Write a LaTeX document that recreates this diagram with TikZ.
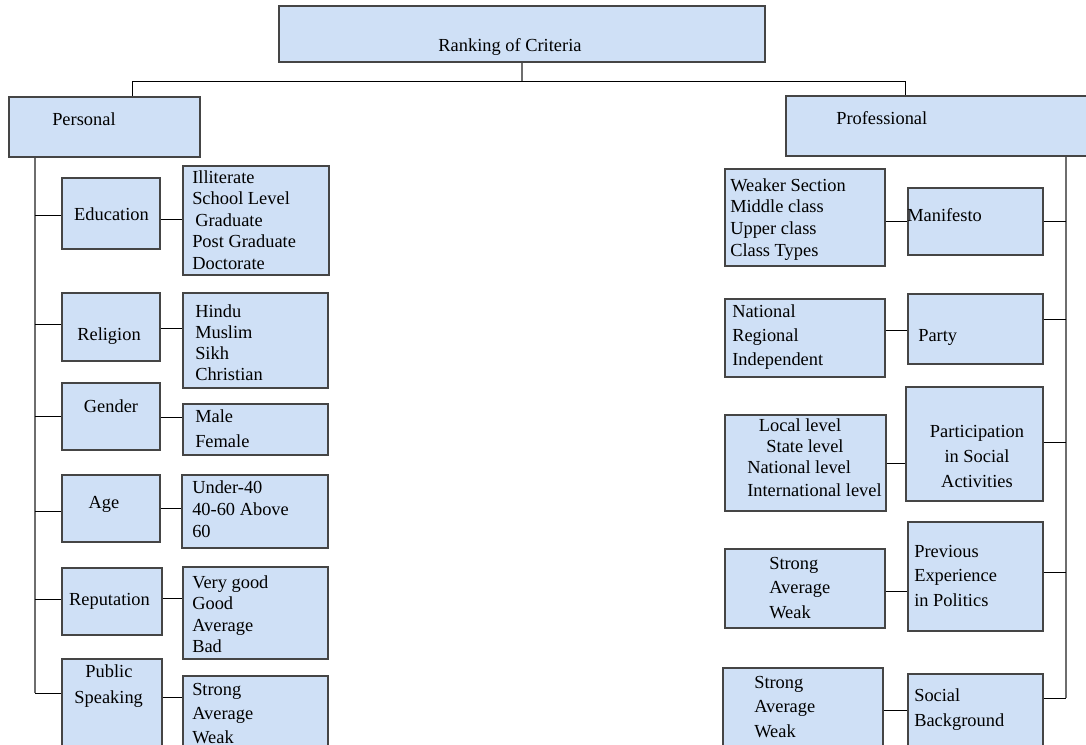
\documentclass[tikz,border=0pt]{standalone}
\usepackage{fontspec}
\setmainfont{Liberation Serif}
\usetikzlibrary{fit}
\definecolor{boxfill}{HTML}{CFE0F6}
\definecolor{boxline}{HTML}{454545}
\definecolor{trunkc}{HTML}{6E6E6E}
\tikzset{
  box/.style={draw=boxline, fill=boxfill, line width=0.9pt, inner sep=0pt, rectangle},
  txt/.style={inner sep=0pt, font=\fontsize{13.8}{16}\selectfont, text=black},
  link/.style={draw=black, line width=0.75pt},
  trunk/.style={draw=trunkc, line width=1.1pt},
}
\newcommand\mkbox[5]{\node[box, fit={(#2,#3) (#4,#5)}] (#1) {};}
\newcommand\mklines[5]{%
  \foreach \t [count=\i] in {#5} {\node[txt, anchor=base west] (#1\i) at (#2,{#3+(\i-1)*#4}) {\t};}}
\begin{document}
\begin{tikzpicture}[x=0.75pt,y=-0.75pt]
\useasboundingbox (0,0) rectangle (1086,744);
\clip (0,0) rectangle (1086,744);
% boxes
\mkbox{top}{279}{6}{765}{62}
\mkbox{personal}{9}{97}{200}{157}
\mkbox{prof}{786}{96}{1092}{156}
\mkbox{edu}{62}{178}{160}{249}
\mkbox{eduopt}{183}{166}{329}{275}
\mkbox{rel}{62}{293}{160}{361}
\mkbox{relopt}{183}{293}{328}{388}
\mkbox{gen}{62}{383}{160}{450}
\mkbox{genopt}{183}{404}{328}{455}
\mkbox{age}{62}{475}{160}{542}
\mkbox{ageopt}{182}{475}{328}{548}
\mkbox{rep}{62}{568}{162}{635}
\mkbox{repopt}{183}{567}{328}{659}
\mkbox{ps}{62}{659}{162}{760}
\mkbox{psopt}{183}{676}{328}{760}
\mkbox{weak}{725}{169}{885}{266}
\mkbox{mani}{908}{188}{1043}{255}
\mkbox{nat}{725}{299}{885}{377}
\mkbox{party}{908}{294}{1043}{364}
\mkbox{loc}{725}{415}{886}{511}
\mkbox{part}{906}{387}{1043}{501}
\mkbox{str1}{725}{549}{885}{628}
\mkbox{prev}{908}{522}{1043}{631}
\mkbox{str2}{723}{668}{883}{760}
\mkbox{soc}{908}{674}{1043}{760}
% top connectors
\coordinate (hl) at (132,81);
\coordinate (hr) at (905,81);
\coordinate (tk) at (522,81);
\draw[trunk] (top.south -| tk) -- (tk);
\draw[link] (hl) -- (hr);
\draw[link] (hl) -- (hl |- personal.north);
\draw[link] (hr) -- (hr |- prof.north);
% left trunk
\coordinate (LT) at (35,693);
\draw[trunk] (LT |- personal.south) -- (LT);
\draw[link] (LT |- 0,215) -- (edu.west |- 0,215);
\draw[link] (LT |- 0,324) -- (rel.west |- 0,324);
\draw[link] (LT |- 0,416) -- (gen.west |- 0,416);
\draw[link] (LT |- 0,511) -- (age.west |- 0,511);
\draw[link] (LT |- 0,599) -- (rep.west |- 0,599);
\draw[link] (LT |- 0,693) -- (ps.west |- 0,693);
\draw[link] (edu.east |- 0,219) -- (eduopt.west |- 0,219);
\draw[link] (rel.east |- 0,328) -- (relopt.west |- 0,328);
\draw[link] (gen.east |- 0,417) -- (genopt.west |- 0,417);
\draw[link] (age.east |- 0,508) -- (ageopt.west |- 0,508);
\draw[link] (rep.east |- 0,598) -- (repopt.west |- 0,598);
\draw[link] (ps.east |- 0,697) -- (psopt.west |- 0,697);
% right trunk
\coordinate (RT) at (1066,698);
\draw[trunk] (RT |- prof.south) -- (RT);
\draw[link] (mani.east |- 0,221) -- (RT |- 0,221);
\draw[link] (party.east |- 0,319) -- (RT |- 0,319);
\draw[link] (part.east |- 0,442) -- (RT |- 0,442);
\draw[link] (prev.east |- 0,572) -- (RT |- 0,572);
\draw[link] (soc.east |- 0,698) -- (RT);
\draw[link] (weak.east |- 0,221) -- (mani.west |- 0,221);
\draw[link] (nat.east |- 0,330) -- (party.west |- 0,330);
\draw[link] (loc.east |- 0,463) -- (part.west |- 0,463);
\draw[link] (str1.east |- 0,591) -- (prev.west |- 0,591);
\draw[link] (str2.east |- 0,710) -- (soc.west |- 0,710);
% texts
\node[txt, anchor=base] (ttop) at (510,51) {Ranking of Criteria};
\node[txt, anchor=base west] (tpers) at (52,125) {Personal};
\node[txt, anchor=base west] (tprof) at (836,124) {Professional};
\node[txt, anchor=base] (tedu) at (111.5,220) {Education};
\mklines{eo}{192}{183}{21.5}{Illiterate,School Level,\hspace*{2.25pt}Graduate,Post Graduate,Doctorate}
\node[txt, anchor=base] (trel) at (109,340) {Religion};
\mklines{ro}{195}{317}{21.3}{Hindu,Muslim,Sikh,Christian}
\node[txt, anchor=base] (tgen) at (111,412) {Gender};
\mklines{go}{195}{422}{25}{Male,Female}
\node[txt, anchor=base] (tage) at (104,508) {Age};
\mklines{ao}{192}{493}{22}{Under-40,40-60 Above,60}
\node[txt, anchor=base] (trep) at (109.5,605) {Reputation};
\mklines{rpo}{192}{588}{21.5}{Very good,Good,Average,Bad}
\node[txt, anchor=base] (tps1) at (109,677) {Public};
\node[txt, anchor=base] (tps2) at (108.7,703) {Speaking};
\mklines{pso}{192}{695}{24}{Strong,Average,Weak}
\mklines{wo}{730}{191}{21.7}{Weaker Section,Middle class,Upper class,Class Types}
\node[txt, anchor=base west] (tmani) at (907,221) {Manifesto};
\mklines{no}{732}{317}{24.2}{National,Regional,Independent}
\node[txt, anchor=base west] (tparty) at (918,341) {Party};
\node[txt, anchor=base] (tpart1) at (977,437) {Participation};
\node[txt, anchor=base] (tpart2) at (977,462) {in Social};
\node[txt, anchor=base] (tpart3) at (977,487) {Activities};
\node[txt, anchor=base] (tloc1) at (800,431) {Local level};
\node[txt, anchor=base] (tloc2) at (805,452) {State level};
\node[txt, anchor=base west] (tloc3) at (747,473) {National level};
\node[txt, anchor=base west] (tloc4) at (747,496) {International level};
\mklines{sa}{769}{569}{24.5}{Strong,Average,Weak}
\mklines{pv}{914}{557}{24.7}{Previous,Experience,in Politics}
\mklines{sb}{754}{688}{24.7}{Strong,Average,Weak}
\mklines{sc}{914}{701}{25.7}{Social,Background}
\end{tikzpicture}
\end{document}
